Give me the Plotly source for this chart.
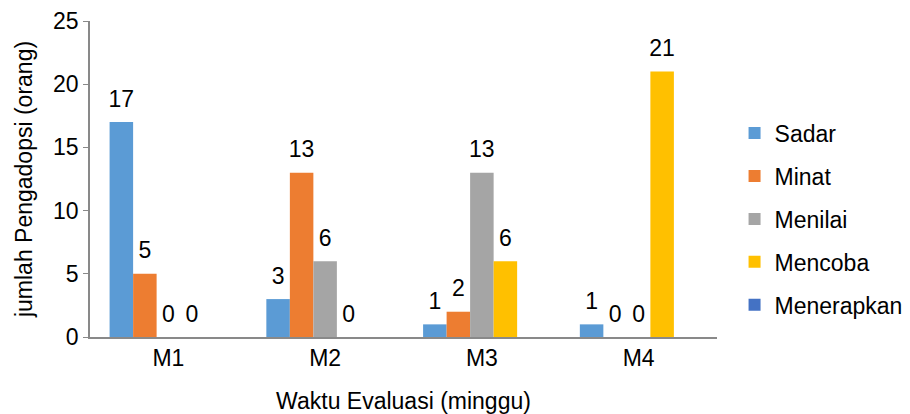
import plotly.graph_objects as go

categories = ["M1", "M2", "M3", "M4"]
series_names = ["Sadar", "Minat", "Menilai", "Mencoba", "Menerapkan"]
sadar = [17, 3, 1, 1]
minat = [5, 13, 2, 0]
menilai = [0, 6, 13, 0]
mencoba = [0, 0, 6, 21]
menerapkan = [None, None, None, None]
colors = ["#5B9BD5", "#ED7D31", "#A5A5A5", "#FFC000", "#4472C4"]

values = [sadar, minat, menilai, mencoba, menerapkan]
FONT = "Liberation Sans, Arial, sans-serif"
FS = 23

fig = go.Figure()
for name, vals, col in zip(series_names, values, colors):
    fig.add_trace(go.Bar(
        x=categories, y=vals, name=name,
        marker=dict(color=col, line=dict(width=0)),
        legendgroup=name, hoverinfo="skip",
    ))
# data labels: text-only scatter traces grouped like the bars
for name, vals in zip(series_names, values):
    fig.add_trace(go.Scatter(
        x=categories, y=vals, mode="markers+text",
        text=[("" if v is None else str(v)) for v in vals],
        textposition="top center",
        textfont=dict(family=FONT, size=FS, color="#000"),
        marker=dict(size=14, opacity=0),
        showlegend=False, hoverinfo="skip", cliponaxis=False,
    ))

fig.update_layout(
    width=910, height=414,
    margin=dict(l=90, r=193, t=21, b=77, autoexpand=False),
    barmode="group", bargap=0.25, bargroupgap=0,
    scattermode="group", scattergap=0.25,
    plot_bgcolor="white", paper_bgcolor="white",
    font=dict(family=FONT, size=FS, color="#000"),
    legend=dict(x=1.028, xanchor="left", y=0.373, yanchor="middle",
                font=dict(family=FONT, size=FS, color="#000"),
                tracegroupgap=10, itemwidth=30),
    xaxis=dict(
        showline=True, linecolor="#898989", linewidth=1.5,
        ticks="", showgrid=False, automargin=False,
        tickfont=dict(family=FONT, size=FS, color="#000"),
        title=dict(text="Waktu Evaluasi (minggu)", standoff=25,
                   font=dict(family=FONT, size=FS, color="#000")),
    ),
    yaxis=dict(
        range=[0, 25], dtick=5, showline=True, linecolor="#898989", linewidth=1.5,
        ticks="outside", ticklen=5, tickcolor="#898989", showgrid=False, zeroline=False,
        automargin=False,
        tickfont=dict(family=FONT, size=FS, color="#000"),
        title=dict(text="jumlah Pengadopsi (orang)", standoff=14,
                   font=dict(family=FONT, size=FS, color="#000")),
    ),
)

fig.write_html("out.html", config={"displayModeBar": False},
               post_script="document.body.style.margin='0';document.body.style.overflow='hidden';")
